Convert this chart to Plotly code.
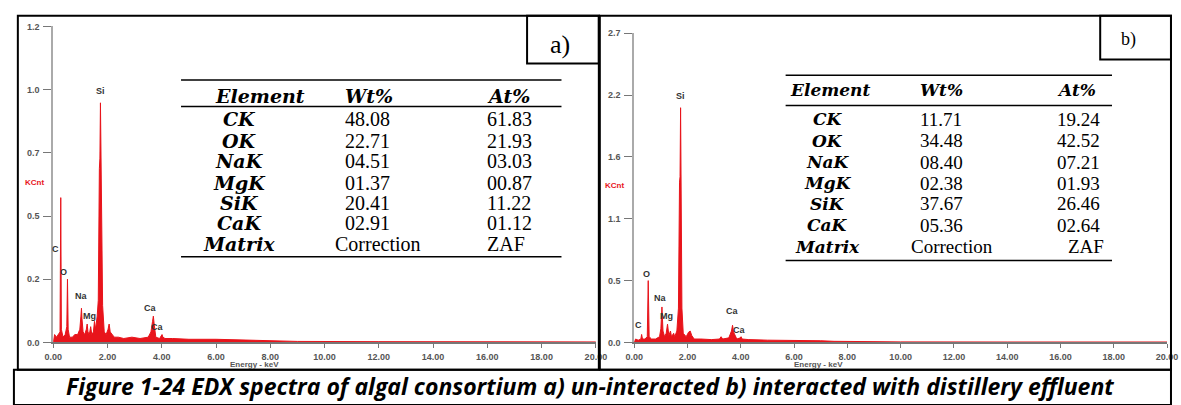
import plotly.graph_objects as go

W, H = 1181, 405

# ---------------- data ----------------
energy_ticks = [0, 2, 4, 6, 8, 10, 12, 14, 16, 18, 20]
energy_ticktext = ["0.00", "2.00", "4.00", "6.00", "8.00", "10.00", "12.00", "14.00", "16.00", "18.00", "20.00"]

y_ticks_a = [0.0, 0.24, 0.48, 0.72, 0.96, 1.2]
y_ticktext_a = ["0.0", "0.2", "0.5", "0.7", "1.0", "1.2"]
y_ticks_b = [0.0, 0.54, 1.08, 1.62, 2.16, 2.7]
y_ticktext_b = ["0.0", "0.5", "1.1", "1.6", "2.2", "2.7"]

# spectrum a) (energy keV, counts in KCnt)
spectrum_a = [
    (0.00, 0.00), (0.05, 0.03), (0.12, 0.02), (0.20, 0.03), (0.25, 0.04), (0.277, 0.55),
    (0.30, 0.05), (0.36, 0.02), (0.44, 0.03), (0.50, 0.06), (0.525, 0.24), (0.55, 0.05),
    (0.60, 0.02), (0.70, 0.02), (0.80, 0.03), (0.90, 0.03), (0.98, 0.05), (1.02, 0.10),
    (1.04, 0.13), (1.06, 0.09), (1.10, 0.04), (1.16, 0.03), (1.22, 0.05), (1.25, 0.07),
    (1.28, 0.04), (1.33, 0.03), (1.38, 0.06), (1.42, 0.03), (1.48, 0.04), (1.52, 0.08),
    (1.56, 0.05), (1.62, 0.10), (1.66, 0.16), (1.70, 0.66), (1.72, 0.70), (1.74, 0.91),
    (1.76, 0.68), (1.78, 0.62), (1.82, 0.14), (1.88, 0.04), (1.95, 0.03), (2.02, 0.05),
    (2.06, 0.07), (2.10, 0.04), (2.16, 0.03), (2.25, 0.02), (2.40, 0.02), (2.60, 0.015),
    (2.90, 0.02), (3.20, 0.015), (3.50, 0.02), (3.60, 0.04), (3.66, 0.08), (3.69, 0.10),
    (3.72, 0.07), (3.78, 0.02), (3.92, 0.015), (3.98, 0.025), (4.01, 0.03), (4.04, 0.02),
    (4.12, 0.015), (4.40, 0.015), (5.00, 0.012), (6.00, 0.012), (7.00, 0.01), (8.00, 0.008),
    (8.50, 0.005), (9.00, 0.004), (12.0, 0.003), (16.0, 0.002), (20.0, 0.002),
]

# spectrum b)
spectrum_b = [
    (0.00, 0.00), (0.05, 0.03), (0.15, 0.02), (0.25, 0.03), (0.277, 0.07), (0.31, 0.03),
    (0.40, 0.03), (0.49, 0.05), (0.525, 0.54), (0.56, 0.05), (0.65, 0.03), (0.80, 0.03),
    (0.95, 0.05), (1.00, 0.12), (1.04, 0.31), (1.08, 0.10), (1.14, 0.05), (1.20, 0.08),
    (1.25, 0.16), (1.30, 0.06), (1.36, 0.10), (1.40, 0.05), (1.48, 0.08), (1.52, 0.05),
    (1.60, 0.10), (1.66, 0.30), (1.70, 1.40), (1.72, 1.45), (1.74, 2.05), (1.76, 1.40),
    (1.79, 0.30), (1.84, 0.08), (1.95, 0.05), (2.04, 0.09), (2.10, 0.10), (2.16, 0.06),
    (2.25, 0.03), (2.50, 0.03), (2.90, 0.025), (3.20, 0.03), (3.26, 0.05), (3.32, 0.03),
    (3.55, 0.04), (3.65, 0.10), (3.69, 0.15), (3.73, 0.09), (3.85, 0.03), (3.98, 0.04),
    (4.01, 0.05), (4.05, 0.03), (4.30, 0.025), (5.00, 0.02), (6.00, 0.02), (7.00, 0.015),
    (7.50, 0.01), (8.00, 0.008), (10.0, 0.005), (14.0, 0.004), (20.0, 0.004),
]

# peak labels (text, energy, counts)
peaks_a = [("C", 0.10, 0.33), ("O", 0.36, 0.24), ("Na", 1.05, 0.15), ("Mg", 1.35, 0.075),
           ("Si", 1.74, 0.93), ("Ca", 3.60, 0.105), ("Ca", 3.85, 0.033)]
peaks_b = [("C", 0.15, 0.09), ("O", 0.45, 0.54), ("Na", 1.00, 0.33), ("Mg", 1.20, 0.17),
           ("Si", 1.72, 2.09), ("Ca", 3.70, 0.21), ("Ca", 3.95, 0.05)]

# composition tables
elements = ["CK", "OK", "NaK", "MgK", "SiK", "CaK"]
wt_a = ["48.08", "22.71", "04.51", "01.37", "20.41", "02.91"]
at_a = ["61.83", "21.93", "03.03", "00.87", "11.22", "01.12"]
wt_b = ["11.71", "34.48", "08.40", "02.38", "37.67", "05.36"]
at_b = ["19.24", "42.52", "07.21", "01.93", "26.46", "02.64"]
matrix_row = ["Matrix", "Correction", "ZAF"]
headers = ["Element", "Wt%", "At%"]

caption = "Figure 1-24 EDX spectra of algal consortium a) un-interacted b) interacted with distillery effluent"

# ---------------- helpers ----------------
def px(x):
    return x / W


def py(y):
    return 1 - y / H


RED = "#e8141b"
TICKFONT = dict(family="Arial", size=9, color="#555555", weight="bold")

fig = go.Figure()

for sp, xa, ya in [(spectrum_a, "x", "y"), (spectrum_b, "x2", "y2")]:
    fig.add_trace(go.Scatter(
        x=[p[0] for p in sp], y=[p[1] for p in sp], mode="lines",
        line=dict(color=RED, width=1), fill="tozeroy", fillcolor=RED,
        xaxis=xa, yaxis=ya, hoverinfo="skip", showlegend=False,
    ))


def xaxis_def(d0, d1, anchor):
    return dict(domain=[px(d0), px(d1)], range=[0, 20], anchor=anchor,
                tickvals=energy_ticks, ticktext=energy_ticktext,
                showline=True, linecolor="#777777", linewidth=2,
                ticks="outside", ticklen=4, tickcolor="#777777", tickwidth=1,
                ticklabelstandoff=1,
                tickfont=TICKFONT, showgrid=False, zeroline=False, fixedrange=True)


def yaxis_def(top, rng, tv, tt, anchor):
    return dict(domain=[py(346), py(top)], range=rng, anchor=anchor,
                tickvals=tv, ticktext=tt,
                showline=True, linecolor="#aaaaaa", linewidth=2,
                ticks="outside", ticklen=8, tickcolor="#777777", tickwidth=1,
                ticklabelstandoff=2,
                tickfont=TICKFONT, showgrid=False, zeroline=False, fixedrange=True)


fig.update_layout(
    width=W, height=H, margin=dict(l=0, r=0, t=0, b=0),
    paper_bgcolor="white", plot_bgcolor="white", showlegend=False,
    xaxis=xaxis_def(45, 597, "y"),
    yaxis=yaxis_def(22, [0, 1.2], y_ticks_a, y_ticktext_a, "x"),
    xaxis2=xaxis_def(636, 1178, "y2"),
    yaxis2=yaxis_def(29, [0, 2.7], y_ticks_b, y_ticktext_b, "x2"),
)

ann = []
shapes = []


def label(x, y, text, font, xanchor="center", yanchor="middle"):
    ann.append(dict(x=px(x), y=py(y), xref="paper", yref="paper", text=text, showarrow=False,
                    xanchor=xanchor, yanchor=yanchor, font=font))


# peak labels
for peaks, xr, yr in [(peaks_a, "x", "y"), (peaks_b, "x2", "y2")]:
    for t, e, c in peaks:
        ann.append(dict(x=e, y=c, xref=xr, yref=yr, text=t, showarrow=False,
                        xanchor="center", yanchor="bottom",
                        font=dict(family="Arial", size=9, color="#333333", weight="bold")))

# KCnt labels and energy titles
for x, y in [(26, 182), (616, 185)]:
    label(x, y, "KCnt", dict(family="Arial", size=8, color="#e8141b", weight="bold"))
for x in [250, 823]:
    label(x, 369, "Energy - keV", dict(family="Arial", size=8, color="#555555", weight="bold"))


def add_table(x_el, x_el_head, x_wt, x_at, x_corr, x_zaf, y_head, ys, rules, xr0, xr1,
              wt, at, fsize_el, fsize_num):
    elfont = dict(family="DejaVu Serif", size=fsize_el, color="black")
    numfont = dict(family="Liberation Serif", size=fsize_num, color="black")
    label(x_el_head, y_head, "<b><i>" + headers[0] + "</i></b>", elfont)
    label(x_wt, y_head, "<b><i>" + headers[1] + "</i></b>", elfont, xanchor="left")
    label(x_at, y_head, "<b><i>" + headers[2] + "</i></b>", elfont, xanchor="left")
    for i, el in enumerate(elements):
        label(x_el, ys[i], "<b><i>" + el + "</i></b>", elfont)
        label(x_wt, ys[i], wt[i], numfont, xanchor="left")
        label(x_at, ys[i], at[i], numfont, xanchor="left")
    ym = ys[len(elements)]
    label(x_el, ym, "<b><i>" + matrix_row[0] + "</i></b>", elfont)
    label(x_corr, ym, matrix_row[1], numfont, xanchor="left")
    label(x_zaf, ym, matrix_row[2], numfont, xanchor="left")
    for r in rules:
        shapes.append(dict(type="line", xref="paper", yref="paper", x0=px(xr0), x1=px(xr1),
                           y0=py(r), y1=py(r), line=dict(color="black", width=1.5)))


add_table(234, 255, 340, 484, 330, 484, 93, [117, 139, 160, 182, 203, 224, 245],
          [77, 104, 258], 175, 562, wt_a, at_a, 19, 20)
add_table(833, 835, 925, 1064, 915, 1075, 87, [117, 139, 161, 183, 204, 226, 248],
          [72, 103, 262], 790, 1122, wt_b, at_b, 17, 19)


# frames
def rect(x0, y0, x1, y1, w=2):
    shapes.append(dict(type="rect", xref="paper", yref="paper", x0=px(x0), x1=px(x1),
                       y0=py(y1), y1=py(y0), line=dict(color="black", width=w), fillcolor="rgba(0,0,0,0)"))


rect(9, 11, 600, 374)
rect(601, 11, 1182, 374)
rect(527, 11, 600, 60)
rect(1110, 11, 1182, 56)
rect(5, 374, 1182, 410)

label(560, 41, "a)", dict(family="Liberation Serif", size=26, color="black"))
label(1139, 35, "b)", dict(family="Liberation Serif", size=18, color="black"))

label(591, 391, "<b><i>" + caption + "</i></b>", dict(family="Open Sans", size=23, color="black"))

fig.update_layout(annotations=ann, shapes=shapes)
fig.write_html("out.html")
